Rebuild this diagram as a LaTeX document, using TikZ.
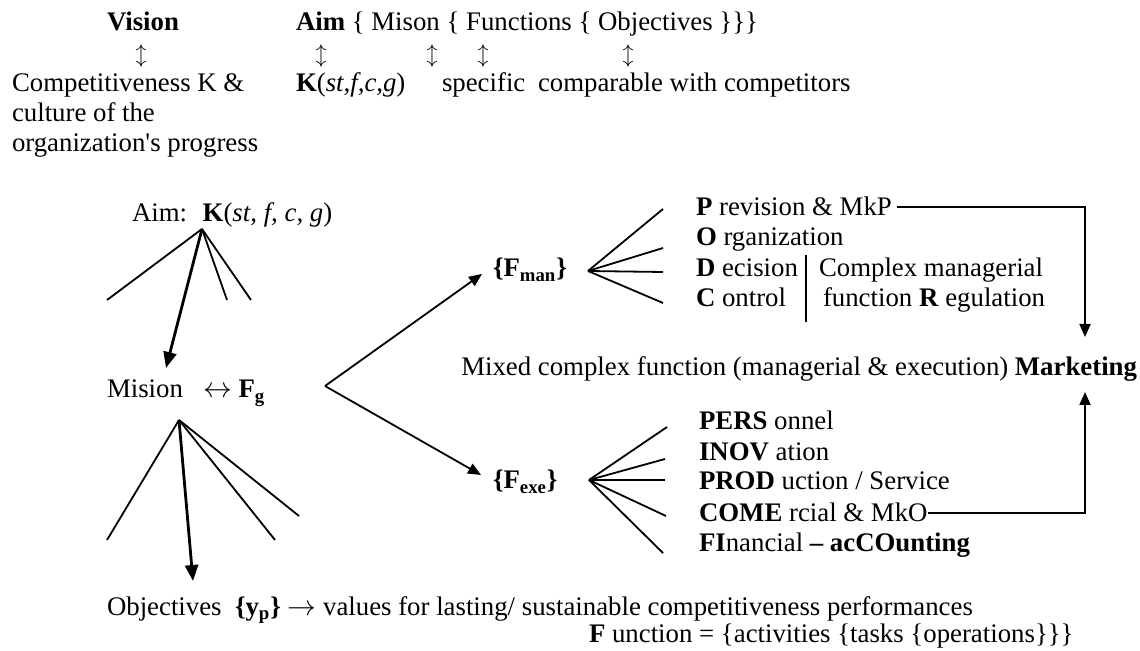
\documentclass[tikz,border=0pt]{standalone}
\usepackage{fontspec}
\setmainfont{Liberation Serif}
\usetikzlibrary{arrows.meta,calc}
\tikzset{
  txt/.style={inner sep=0pt,outer sep=0pt,anchor=base west,font=\fontsize{13.4}{15}\selectfont},
  updown/.style={inner sep=0pt,outer sep=0pt,anchor=base,font=\fontsize{11}{13}\selectfont},
  fan/.style={line width=0.9pt},
  arr/.style={line width=0.9pt,-{Triangle[length=6.5pt,width=5.5pt]}},
  bigarr/.style={line width=1.4pt,-{Triangle[length=8pt,width=6.5pt]}}
}
\begin{document}
\begin{tikzpicture}[x=0.5pt,y=-0.5pt]
\useasboundingbox (0,0) rectangle (1140,651);
\node[txt,anchor=base] (vision) at (143,31) {\textbf{Vision}};
\node[updown] (visarr) at (141,62) {$\updownarrow$};
\node[txt] (comp1) at (12,92) {Competitiveness K \&};
\node[txt] (comp2) at (12,122) {culture of the};
\node[txt] (comp3) at (12,152) {organization\textquotesingle s progress};
\node[txt] (aimrow) at (296,31) {\textbf{Aim} \{ Mison \{ Functions \{ Objectives \}\}\}};
\foreach \x [count=\i] in {321,432,483,628}
  \node[updown] (rowarr\i) at (\x,62) {$\updownarrow$};
\node[txt] (kst) at (296,92) {\textbf{K}(\textit{st,f,c,g})};
\node[txt] (spec) at (442,92) {specific};
\node[txt] (rival) at (538,92) {comparable with competitors};

\node[txt] (aimk) at (132,222) {Aim: \ \textbf{K}(\textit{st, f, c, g})};
\coordinate (aimtip) at (202,229);
\foreach \x/\y [count=\i] in {107/300,227/300,251/300}{
  \coordinate (aimend\i) at (\x,\y);
  \draw[fan] (aimtip) -- (aimend\i);
}
\coordinate (misdown) at (166,368);
\draw[bigarr] (aimtip) -- (misdown);

\node[txt] (mision) at (107,398) {Mision\hspace{0.75em}$\leftrightarrow$ \textbf{F\textsubscript{g}}};
\coordinate (mistip) at (179,420);
\foreach \x/\y [count=\i] in {107/540,275/540,299/516}{
  \coordinate (misend\i) at (\x,\y);
  \draw[fan] (mistip) -- (misend\i);
}
\coordinate (objdown) at (193,581);
\draw[bigarr] (mistip) -- (objdown);
\node[txt] (objrow) at (107,615) {Objectives \ \textbf{\{y\textsubscript{p}\}} $\rightarrow$ values for lasting/ sustainable competitiveness performances};
\node[txt] (funrow) at (589,642) {\textbf{F} unction = \{activities \{tasks \{operations\}\}\}};

\coordinate (fgtip) at (325,386);
\node[txt] (fman) at (493,277) {\textbf{\{F\textsubscript{man}\}}};
\node[txt] (fexe) at (493,489) {\textbf{\{F\textsubscript{exe}\}}};
\draw[arr] (fgtip) -- ($(fman.west)+(-11,4)$);
\draw[arr] (fgtip) -- ($(fexe.west)+(-12,-7)$);

\coordinate (mantip) at (588,271);
\foreach \x/\y [count=\i] in {663/209,663/248,663/272,663/303}{
  \coordinate (manend\i) at (\x,\y);
  \draw[fan] (mantip) -- (manend\i);
}
\node[txt] (prev) at (696,216) {\textbf{P} revision \& MkP};
\node[txt] (org) at (696,246) {\textbf{O} rganization};
\node[txt] (dec) at (696,277) {\textbf{D} ecision};
\node[txt] (ctrl) at (696,307) {\textbf{C} ontrol};
\draw[line width=1.3pt] (806,255) -- (806,322);
\node[txt] (cxman) at (819,277) {Complex managerial};
\node[txt] (cxreg) at (823,307) {function \textbf{R} egulation};

\node[txt,anchor=base east] (mixed) at (1137,376) {Mixed complex function (managerial \& execution) \textbf{Marketing}};
\coordinate (mkdown) at (1085,337);
\coordinate (mkup) at (1085,392);
\draw[arr] ($(prev.east)+(5,0)$) -| (mkdown);

\coordinate (exetip) at (589,480);
\foreach \x/\y [count=\i] in {667/427,665/459,665/480,666/516,663/553}{
  \coordinate (exeend\i) at (\x,\y);
  \draw[fan] (exetip) -- (exeend\i);
}
\node[txt] (pers) at (699,430) {\textbf{PERS} onnel};
\node[txt] (inov) at (699,461) {\textbf{INOV} ation};
\node[txt] (prod) at (699,490) {\textbf{PROD} uction / Service};
\node[txt] (come) at (699,522) {\textbf{COME} rcial \& MkO};
\node[txt] (fin) at (699,552) {\textbf{FI}nancial \textbf{– acCOunting}};
\draw[arr] (come.east) -| (mkup);
\end{tikzpicture}
\end{document}
